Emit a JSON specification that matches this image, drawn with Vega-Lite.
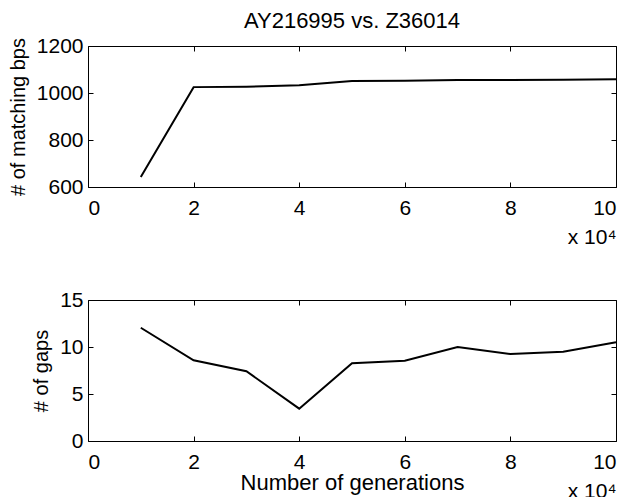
{
  "$schema": "https://vega.github.io/schema/vega-lite/v6.json",
  "padding": {"left": 7, "top": 9, "right": 0, "bottom": 0},
  "background": "white",
  "spacing": 40,
  "config": {
    "font": "Liberation Sans",
    "view": {"stroke": "black", "strokeWidth": 1},
    "axis": {
      "domain": false, "grid": false, "ticks": true, "tickColor": "#000000", "tickOpacity": 1, "tickSize": 5, "tickWidth": 1, "offset": -5,
      "labelColor": "black", "labelFontSize": 21, "labelFont": "Liberation Sans",
      "titleFont": "Liberation Sans", "titleFontSize": 20, "titleFontWeight": "normal", "titleColor": "black"
    },
    "title": {"fontSize": 22, "fontWeight": "normal", "font": "Liberation Sans", "color": "black"}
  },
  "datasets": {
    "d": [
      {"gen": 10000, "match": 643, "gaps": 12.05},
      {"gen": 20000, "match": 1025, "gaps": 8.58},
      {"gen": 30000, "match": 1027, "gaps": 7.42},
      {"gen": 40000, "match": 1033, "gaps": 3.44},
      {"gen": 50000, "match": 1051, "gaps": 8.26},
      {"gen": 60000, "match": 1052, "gaps": 8.54},
      {"gen": 70000, "match": 1055, "gaps": 10.0},
      {"gen": 80000, "match": 1055, "gaps": 9.26},
      {"gen": 90000, "match": 1056, "gaps": 9.5},
      {"gen": 100000, "match": 1058, "gaps": 10.5}
    ]
  },
  "vconcat": [
    {
      "title": {"text": "AY216995 vs. Z36014", "offset": 2},
      "width": 528,
      "height": 141,
      "data": {"name": "d"},
      "resolve": {"axis": {"x": "independent", "y": "independent"}},
      "layer": [
        {
          "mark": {"type": "line", "color": "black", "strokeWidth": 2},
          "encoding": {
            "x": {"field": "gen", "type": "quantitative", "scale": {"domain": [0, 100000], "nice": false},
              "axis": {"values": [0, 20000, 40000, 60000, 80000, 100000], "labelExpr": "datum.value / 10000", "labelPadding": 10, "title": "x 10⁴", "titleAnchor": "end", "titlePadding": 8, "titleFontSize": 21}},
            "y": {"field": "match", "type": "quantitative", "scale": {"domain": [600, 1200], "nice": false},
              "axis": {"values": [600, 800, 1000, 1200], "format": "d", "labelPadding": 5, "title": "# of matching bps", "titlePadding": 8}}
          }
        },
        {
          "mark": {"type": "line", "opacity": 0},
          "encoding": {
            "x": {"field": "gen", "type": "quantitative", "axis": {"orient": "top", "values": [0, 20000, 40000, 60000, 80000, 100000], "labels": false, "title": null}},
            "y": {"field": "match", "type": "quantitative", "axis": {"orient": "right", "values": [600, 800, 1000, 1200], "labels": false, "title": null}}
          }
        }
      ]
    },
    {
      "width": 528,
      "height": 141,
      "data": {"name": "d"},
      "resolve": {"axis": {"x": "independent", "y": "independent"}},
      "layer": [
        {
          "mark": {"type": "line", "color": "black", "strokeWidth": 2},
          "encoding": {
            "x": {"field": "gen", "type": "quantitative", "scale": {"domain": [0, 100000], "nice": false},
              "axis": {"values": [0, 20000, 40000, 60000, 80000, 100000], "labelExpr": "datum.value / 10000", "labelPadding": 10, "title": "Number of generations", "titlePadding": 0, "titleFontSize": 22}},
            "y": {"field": "gaps", "type": "quantitative", "scale": {"domain": [0, 15], "nice": false},
              "axis": {"values": [0, 5, 10, 15], "labelPadding": 5, "title": "# of gaps", "titlePadding": 8}}
          }
        },
        {
          "mark": {"type": "line", "opacity": 0},
          "encoding": {
            "x": {"field": "gen", "type": "quantitative", "axis": {"orient": "top", "values": [0, 20000, 40000, 60000, 80000, 100000], "labels": false, "title": null}},
            "y": {"field": "gaps", "type": "quantitative", "axis": {"orient": "right", "values": [0, 5, 10, 15], "labels": false, "title": null}}
          }
        },
        {
          "mark": {"type": "line", "opacity": 0},
          "encoding": {
            "x": {"field": "gen", "type": "quantitative", "axis": {"orient": "bottom", "offset": 0, "ticks": false, "labels": false, "title": "x 10⁴", "titleAnchor": "end", "titlePadding": 39, "titleFontSize": 21}},
            "y": {"field": "gaps", "type": "quantitative", "axis": null}
          }
        }
      ]
    }
  ]
}
